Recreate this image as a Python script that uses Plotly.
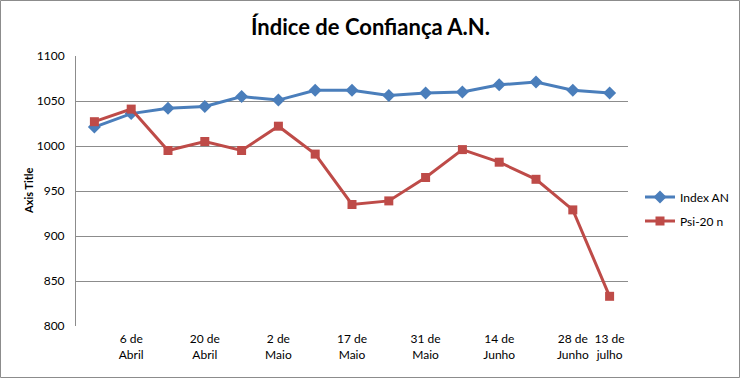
import plotly.graph_objects as go

# Data
positions = list(range(1, 16))
index_an = [1021, 1036, 1042, 1044, 1055, 1051, 1062, 1062, 1056, 1059, 1060, 1068, 1071, 1062, 1059]
psi20 = [1027, 1041, 995, 1005, 995, 1022, 991, 935, 939, 965, 996, 982, 963, 929, 833]
tick_positions = [2, 4, 6, 8, 10, 12, 14, 15]
tick_labels = ["6 de<br>Abril", "20 de<br>Abril", "2 de<br>Maio", "17 de<br>Maio",
               "31 de<br>Maio", "14 de<br>Junho", "28 de<br>Junho", "13 de<br>julho"]
y_ticks = [800, 850, 900, 950, 1000, 1050, 1100]

FONT = "Lato, 'Open Sans', sans-serif"
W, H = 741, 378
L, R, T, B = 76, 113, 56, 52
pw, ph = W - L - R, H - T - B

fig = go.Figure()
fig.add_trace(go.Scatter(
    x=positions, y=index_an, name="Index AN", mode="lines+markers",
    line=dict(color="#4A7EBB", width=3),
    marker=dict(symbol="diamond", size=10, color="#4A7EBB"),
    legendgroup="a"))
fig.add_trace(go.Scatter(
    x=positions, y=psi20, name="Psi-20 n", mode="lines+markers",
    line=dict(color="#BE4B48", width=3),
    marker=dict(symbol="square", size=9, color="#BE4B48"),
    legendgroup="b"))

fig.update_layout(
    width=W, height=H,
    margin=dict(l=L, r=R, t=T, b=B, autoexpand=False),
    paper_bgcolor="white", plot_bgcolor="white",
    font=dict(family=FONT, size=12, color="black"),
    title=dict(text="<b>Índice de Confiança A.N.</b>", x=0.5, xref="container",
               xanchor="center", y=1 - 27 / H, yref="container", yanchor="middle",
               font=dict(size=22, family=FONT, color="black")),
    xaxis=dict(range=[0.5, 15.5], tickmode="array", tickvals=tick_positions,
               ticktext=tick_labels, showgrid=False, zeroline=False, showline=False,
               ticks="", ticklabelstandoff=4, tickfont=dict(size=12, color="black")),
    yaxis=dict(range=[800, 1100], tickmode="array", tickvals=y_ticks,
               showgrid=True, gridcolor="#8C8C8C", gridwidth=1, zeroline=False,
               showline=True, linecolor="#8C8C8C", linewidth=1, ticks="",
               ticklabelstandoff=8, tickfont=dict(size=12, color="black")),
    legend=dict(x=(640 - L) / pw, xanchor="left", y=(H - B - 209) / ph, yanchor="middle",
                font=dict(size=12, color="black"), tracegroupgap=5,
                bgcolor="rgba(0,0,0,0)", itemwidth=30),
    showlegend=True,
)

fig.add_annotation(text="<b>Axis Title</b>", textangle=-90, xref="paper", yref="paper",
                   x=(28 - L) / pw, y=0.5, xanchor="center", yanchor="middle",
                   showarrow=False, font=dict(size=11, family=FONT, color="black"))

# chart border
fig.add_shape(type="rect", xref="paper", yref="paper",
              x0=(0.5 - L) / pw, x1=(W - 1.5 - L) / pw,
              y0=(H - B - (H - 0.5)) / ph, y1=(H - B - 0.5) / ph,
              line=dict(color="#8C8C8C", width=1), layer="below")

fig.write_html("out.html", config={"displayModeBar": False},
               post_script="document.body.style.margin='0';document.body.style.overflow='hidden';")
